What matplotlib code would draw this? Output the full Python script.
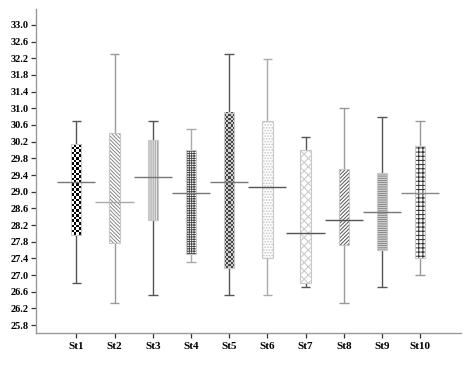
import numpy as np
import matplotlib
matplotlib.use("Agg")
import matplotlib.pyplot as plt
from matplotlib.colors import ListedColormap

categories = ["St1", "St2", "St3", "St4", "St5", "St6", "St7", "St8", "St9", "St10"]
whisker_low = [26.81, 26.32, 26.52, 27.31, 26.52, 26.52, 26.71, 26.32, 26.71, 27.01]
box_low = [27.96, 27.76, 28.31, 27.51, 27.17, 27.41, 26.81, 27.71, 27.61, 27.40]
mean_vals = [29.24, 28.76, 29.35, 28.96, 29.24, 29.11, 28.01, 28.31, 28.51, 28.96]
box_high = [30.14, 30.40, 30.25, 30.00, 30.89, 30.70, 30.00, 29.55, 29.46, 30.10]
whisker_high = [30.70, 32.30, 30.70, 30.50, 32.30, 32.19, 30.30, 31.00, 30.79, 30.70]
ytick_vals = np.round(np.arange(25.8, 33.01, 0.4), 1)

# styles
hatches = [None, "\\" * 9, "|" * 8, "+" * 7, None, "." * 6, "x" * 4, "/" * 9, "-" * 9, "+" * 4]
hatch_colors = [None, "#777777", "#999999", "#444444", None, "#c4c4c4", "#cccccc", "#555555", "#8a8a8a", "#333333"]
hatch_lws = [None, 0.6, 0.8, 0.6, None, 0.8, 0.8, 0.7, 0.9, 0.7]
checker = {0: ("#000000", "#ffffff", 4), 4: ("#444444", "#cfcfcf", 5)}
whisker_colors = ["#555555", "#9a9a9a", "#555555", "#aaaaaa", "#555555",
                  "#aaaaaa", "#555555", "#999999", "#555555", "#999999"]
mean_colors = ["#777777", "#aaaaaa", "#777777", "#777777", "#777777",
               "#555555", "#555555", "#555555", "#777777", "#888888"]

plt.rcParams["font.family"] = ["Liberation Serif", "DejaVu Serif"]
plt.rcParams["font.weight"] = "bold"

fig = plt.figure(figsize=(4.74, 3.78), dpi=100)
ax = fig.add_axes([0.076, 0.12, 0.896, 0.856])

x = np.arange(1, len(categories) + 1)
bw = 0.27
cw = 0.25
mw = 1.0

for i, xi in enumerate(x):
    wc = whisker_colors[i]
    ax.vlines(xi, whisker_low[i], whisker_high[i], color=wc, lw=1.0, zorder=1)
    ax.hlines([whisker_low[i], whisker_high[i]], xi - cw / 2, xi + cw / 2, color=wc, lw=1.0, zorder=1)
    h = box_high[i] - box_low[i]
    ax.bar(xi, h, bottom=box_low[i], width=bw, color="white", edgecolor="none", zorder=2)
    if i in checker:
        c1, c2, ncol = checker[i]
        nrow = int(round(h * 41.75 / (10.3 / ncol)))
        arr = (np.add.outer(np.arange(nrow), np.arange(ncol)) % 2).astype(float)
        ax.imshow(arr, cmap=ListedColormap([c2, c1]),
                  extent=(xi - bw / 2, xi + bw / 2, box_low[i], box_high[i]),
                  aspect="auto", interpolation="nearest", zorder=2.5, origin="lower")
    else:
        plt.rcParams["hatch.linewidth"] = hatch_lws[i]
        ax.bar(xi, h, bottom=box_low[i], width=bw, color="none", edgecolor=hatch_colors[i],
               hatch=hatches[i], lw=0, zorder=3)
    ax.bar(xi, h, bottom=box_low[i], width=bw, color="none", edgecolor="#c8c8c8", lw=0.8, zorder=4)
    ax.hlines(mean_vals[i], xi - mw / 2, xi + mw / 2, color=mean_colors[i], lw=1.0, zorder=5)

ax.set_xlim(-0.055, 11.06)
ax.set_ylim(25.62, 33.38)
ax.set_xticks(x)
ax.set_xticklabels(categories, fontsize=8, fontweight="bold")
ax.set_yticks(ytick_vals)
ax.set_yticklabels([f"{v:.1f}" for v in ytick_vals], fontsize=7.5, fontweight="bold")

for s in ["top", "right"]:
    ax.spines[s].set_visible(False)
for s in ["left", "bottom"]:
    ax.spines[s].set_color("#999999")
    ax.spines[s].set_linewidth(1.0)
ax.tick_params(axis="both", direction="out", length=3.5, width=0.9, color="#333333", pad=1.5)
ax.tick_params(axis="x", pad=3)

fig.savefig("out.png", dpi=100)
